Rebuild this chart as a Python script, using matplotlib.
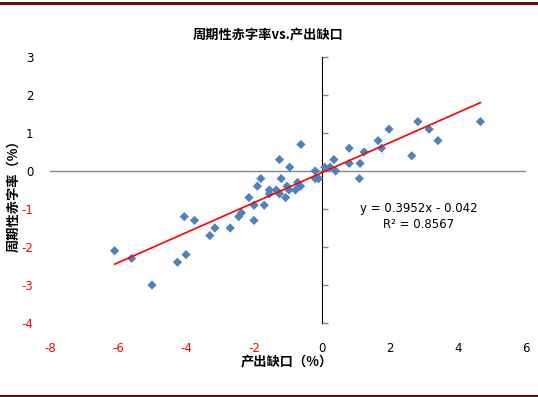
import numpy as np
import matplotlib
matplotlib.use("Agg")
import matplotlib.pyplot as plt
from matplotlib.lines import Line2D

plt.rcParams['font.family'] = ['DejaVu Sans', 'Noto Sans CJK SC']
plt.rcParams['axes.unicode_minus'] = False

# ---- data ----
output_gap = [-6.1, -5.6, -5.0, -4.05, -3.75, -4.25, -4.0, -3.3, -3.15, -2.7,
              -2.45, -2.37, -2.0, -2.0, -2.15, -1.8, -1.9, -1.7, -1.55, -1.55,
              -1.35, -1.3, -1.2, -1.25, -1.07, -1.03, -0.97, -0.78, -0.72, -0.63,
              -0.62, -1.25, -0.95, -0.2, -0.2, -0.1, 0.08, 0.24, 0.35, 0.4,
              0.8, 0.8, 1.1, 1.12, 1.24, 1.65, 1.75, 1.97, 2.64, 2.82,
              3.15, 3.41, 4.66]
deficit_rate = [-2.1, -2.3, -3.0, -1.2, -1.3, -2.4, -2.2, -1.7, -1.5, -1.5,
                -1.2, -1.1, -1.3, -0.9, -0.7, -0.2, -0.4, -0.9, -0.5, -0.6,
                -0.5, -0.55, -0.2, -0.6, -0.7, -0.4, -0.5, -0.5, -0.3, -0.4,
                0.7, 0.3, 0.1, 0.0, -0.2, -0.2, 0.1, 0.1, 0.3, 0.0,
                0.6, 0.2, -0.2, 0.2, 0.5, 0.8, 0.6, 1.1, 0.4, 1.3,
                1.1, 0.8, 1.3]
slope = 0.3952
intercept = -0.042
r_squared = 0.8567
x_ticks = [-8, -6, -4, -2, 0, 2, 4, 6]
y_ticks = [-4, -3, -2, -1, 0, 1, 2, 3]
title = "周期性赤字率vs.产出缺口"
x_label = "产出缺口（%）"
y_label = "周期性赤字率（%）"

cjk = ['Noto Sans CJK SC', 'DejaVu Sans']

fig = plt.figure(figsize=(5.38, 3.97), dpi=100)
ax = fig.add_axes([50/538, 1-323/397, (526-50)/538, (323-57)/397])
ax.set_xlim(x_ticks[0], x_ticks[-1])
ax.set_ylim(y_ticks[0], y_ticks[-1])

for s in ax.spines.values():
    s.set_visible(False)

axis_gray = '#868686'
ax.axhline(0, color=axis_gray, lw=1.0, zorder=1)

# vertical axis at x=0 with outward ticks
loc = (0 - x_ticks[0]) / (x_ticks[-1] - x_ticks[0])
sec = ax.secondary_yaxis(loc)
sec.set_yticks(y_ticks)
sec.tick_params(axis='y', direction='out', length=4, width=1, color=axis_gray, labelleft=False, labelright=False)
sec.spines['left'].set_color(axis_gray)
sec.spines['left'].set_linewidth(1.0)

ax.set_xticks(x_ticks)
ax.set_yticks(y_ticks)
ax.set_xticklabels([str(v) for v in x_ticks])
ax.set_yticklabels([str(v) for v in y_ticks])
ax.tick_params(axis='x', length=0, pad=14, labelsize=8.5)
ax.tick_params(axis='y', length=0, pad=12, labelsize=8.5)
for lab, v in zip(ax.get_xticklabels(), x_ticks):
    lab.set_color('red' if v < 0 else 'black')
for lab, v in zip(ax.get_yticklabels(), y_ticks):
    lab.set_color('red' if v < 0 else 'black')

ax.scatter(output_gap, deficit_rate, marker='D', s=22, color='#4F81BD',
           edgecolors='none', zorder=3, clip_on=False)

xs = np.array([min(output_gap), max(output_gap)])
ax.plot(xs, slope * xs + intercept, color='#FF0000', lw=1.2, zorder=4)

ax.text(2.85, -0.98, f"y = {slope}x - {abs(intercept)}", ha='center', va='center', fontsize=8.5)
ax.text(2.85, -1.4, f"R² = {r_squared}", ha='center', va='center', fontsize=8.5)

fig.text(268/538, 1-34/397, title, ha='center', va='center', fontsize=9.5,
         fontweight='bold', family=cjk)
fig.text(287/538, 1-361/397, x_label, ha='center', va='center', fontsize=9.5,
         fontweight='bold', family=cjk)
fig.text(13/538, 1-193/397, y_label, ha='center', va='center', fontsize=9.5,
         fontweight='bold', family=cjk, rotation=90)

maroon = '#6B0A0A'
fig.add_artist(Line2D([0, 1], [1-2.5/397, 1-2.5/397], color=maroon, lw=2.2, transform=fig.transFigure))
fig.add_artist(Line2D([0, 1], [1-395.5/397, 1-395.5/397], color=maroon, lw=2.2, transform=fig.transFigure))

fig.savefig('out.png', dpi=100)
